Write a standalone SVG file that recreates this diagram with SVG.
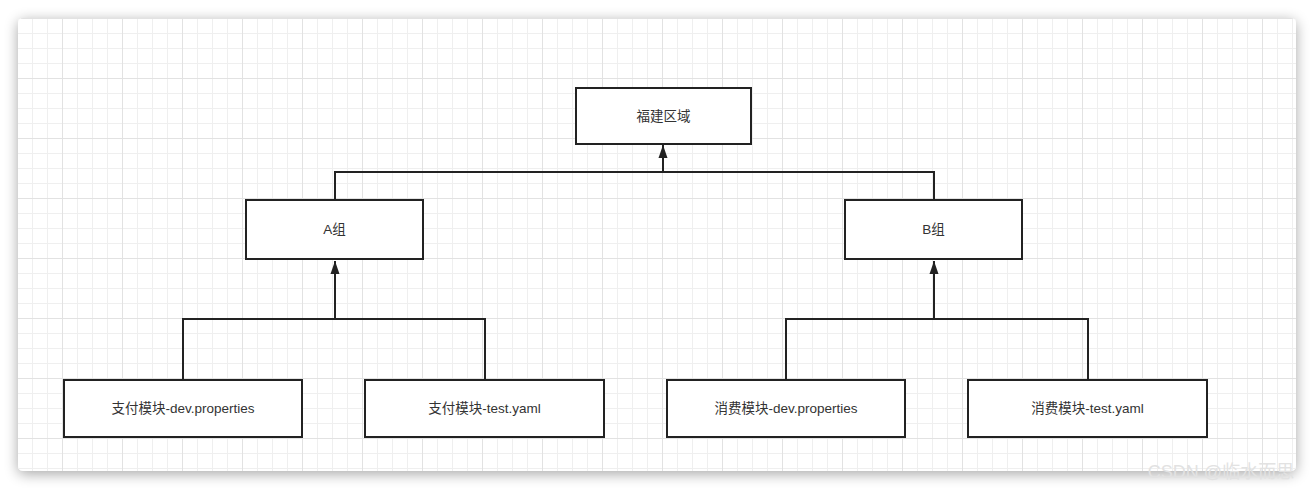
<svg xmlns="http://www.w3.org/2000/svg" width="1314" height="490" viewBox="0 0 1314 490">
<style>
.box{fill:#ffffff;stroke:#222222;stroke-width:2}
.lbl{font-family:"Liberation Sans","Noto Sans CJK SC",sans-serif;font-size:13.5px;fill:#333333;text-anchor:middle;dominant-baseline:central}
.conn{fill:none;stroke:#222222;stroke-width:2}
</style>
<defs>
<filter id="sh" x="-5%" y="-10%" width="110%" height="125%">
<feGaussianBlur in="SourceAlpha" stdDeviation="7"/>
<feOffset dx="0" dy="3" result="b"/>
<feComponentTransfer><feFuncA type="linear" slope="0.35"/></feComponentTransfer>
<feMerge><feMergeNode/><feMergeNode in="SourceGraphic"/></feMerge>
</filter>
<pattern id="grid" patternUnits="userSpaceOnUse" x="2" y="18" width="60" height="60">
<path d="M15.5 0V60M30.5 0V60M45.5 0V60M0 15.5H60M0 30.5H60M0 45.5H60" stroke="#efefef" stroke-width="1" fill="none"/>
<path d="M0.5 0V60M0 0.5H60" stroke="#e2e2e2" stroke-width="1" fill="none"/>
</pattern>
<marker id="arr" markerUnits="userSpaceOnUse" markerWidth="12" markerHeight="14" refX="13" refY="5" orient="auto">
<path d="M0 0.5L13 5L0 9.5Z" fill="#222222"/>
</marker>
<clipPath id="cardclip"><rect x="18" y="18" width="1278" height="453" rx="5"/></clipPath>
</defs>
<rect width="1314" height="490" fill="#ffffff"/>
<rect x="18" y="18" width="1278" height="453" rx="5" fill="#ffffff" filter="url(#sh)"/>
<rect x="18" y="18" width="1278" height="453" fill="url(#grid)" clip-path="url(#cardclip)"/>
<g id="connectors">
<path class="conn" d="M183 380V319H485V380"/>
<path class="conn" d="M335 319V261" marker-end="url(#arr)"/>
<path class="conn" d="M786 380V319H1088V380"/>
<path class="conn" d="M934 319V261" marker-end="url(#arr)"/>
<path class="conn" d="M335 200V172H934V200"/>
<path class="conn" d="M663 172V145" marker-end="url(#arr)"/>
</g>
<g id="node-fujian">
<rect class="box" x="576" y="88" width="175" height="56"/>
<text class="lbl" x="663.5" y="116">福建区域</text>
</g>
<g id="node-a">
<rect class="box" x="246" y="200" width="177" height="59"/>
<text class="lbl" x="334.5" y="229.5">A组</text>
</g>
<g id="node-b">
<rect class="box" x="845" y="200" width="177" height="59"/>
<text class="lbl" x="933.5" y="229.5">B组</text>
</g>
<g id="node-pay-dev">
<rect class="box" x="64" y="380" width="238" height="57"/>
<text class="lbl" x="183" y="408.5">支付模块-dev.properties</text>
</g>
<g id="node-pay-test">
<rect class="box" x="365" y="380" width="239" height="57"/>
<text class="lbl" x="484.5" y="408.5">支付模块-test.yaml</text>
</g>
<g id="node-cons-dev">
<rect class="box" x="667" y="380" width="238" height="57"/>
<text class="lbl" x="786" y="408.5">消费模块-dev.properties</text>
</g>
<g id="node-cons-test">
<rect class="box" x="968" y="380" width="239" height="57"/>
<text class="lbl" x="1087.5" y="408.5">消费模块-test.yaml</text>
</g>
<text x="1221" y="478" font-family="Liberation Sans,'Noto Sans CJK SC',sans-serif" font-size="18" fill="#e2e2e2" text-anchor="middle">CSDN @临水而思</text>
</svg>
